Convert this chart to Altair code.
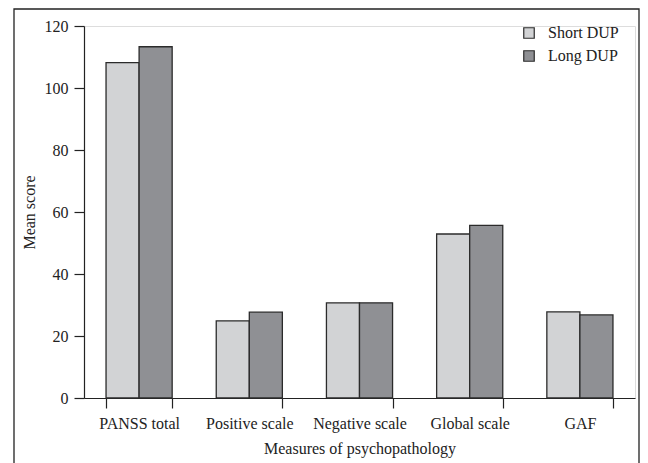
import altair as alt
import pandas as pd

categories = ["PANSS total", "Positive scale", "Negative scale", "Global scale", "GAF"]
series = ["Short DUP", "Long DUP"]
short_dup = [108.2, 24.9, 30.7, 52.9, 27.8]
long_dup = [113.3, 27.7, 30.7, 55.7, 26.8]
y_ticks = [0, 20, 40, 60, 80, 100, 120]
colors = ["#d2d3d5", "#8f9094"]

rows = []
for c, s, l in zip(categories, short_dup, long_dup):
    rows.append({"measure": c, "group": series[0], "score": s})
    rows.append({"measure": c, "group": series[1], "score": l})
df = pd.DataFrame(rows)

FONT = "Liberation Serif"

bars = alt.Chart(df).mark_bar(stroke="#2b2b2b", strokeWidth=1.3).encode(
    x=alt.X("measure:N", sort=categories,
            scale=alt.Scale(paddingInner=0.4, paddingOuter=0.2),
            axis=alt.Axis(title="Measures of psychopathology", labelAngle=0,
                          tickBand="extent", tickSize=10, labelPadding=7,
                          titlePadding=9)),
    xOffset=alt.XOffset("group:N", sort=series,
                        scale=alt.Scale(paddingInner=0, paddingOuter=0)),
    y=alt.Y("score:Q", scale=alt.Scale(domain=[0, 120], nice=False),
            axis=alt.Axis(title="Mean score", values=y_ticks, tickSize=10,
                          labelPadding=6, titlePadding=7, grid=False)),
    color=alt.Color("group:N", sort=series,
                    scale=alt.Scale(domain=series, range=colors),
                    legend=alt.Legend(title=None, orient="none", legendX=437,
                                      legendY=-1, symbolType="square",
                                      symbolSize=110, symbolStrokeColor="#2b2b2b",
                                      symbolStrokeWidth=1.2, labelOffset=11,
                                      rowPadding=7, padding=0,
                                      symbolOpacity=1)),
)

frame = alt.Chart(pd.DataFrame({"a": [0]})).mark_rect(
    fill=None, stroke="#222222", strokeWidth=1.3, clip=False
).encode(
    x=alt.value(-70), x2=alt.value(555), y=alt.value(-17), y2=alt.value(480)
)

chart = alt.layer(bars, frame).properties(
    width=551, height=372,
    autosize=alt.AutoSizeParams(type="none"),
    padding={"left": 76, "top": 18, "right": 5, "bottom": 65},
).configure_view(stroke=None).configure(
    font=FONT
).configure_axis(
    labelFont=FONT, titleFont=FONT, labelFontSize=16, titleFontSize=16,
    titleFontWeight="normal", labelColor="#222222", titleColor="#222222",
    domainColor="#222222", tickColor="#222222", domainWidth=1.2, tickWidth=1.2,
).configure_legend(
    labelFont=FONT, labelFontSize=16, labelColor="#222222",
)

chart.save("out.html", embed_options={"renderer": "svg", "actions": False})
